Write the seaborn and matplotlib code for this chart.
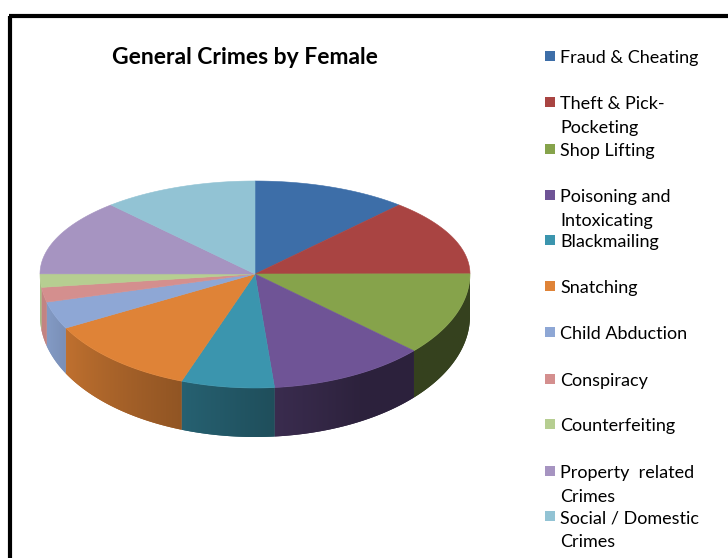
import numpy as np
import matplotlib
matplotlib.use("Agg")
import matplotlib.pyplot as plt
import seaborn as sns
from matplotlib.colors import to_rgb
from matplotlib.patches import Polygon

# Share of general crimes committed by women (percent)
categories = [
    "Fraud & Cheating",
    "Theft & Pick-\nPocketing",
    "Shop Lifting",
    "Poisoning and\nIntoxicating",
    "Blackmailing",
    "Snatching",
    "Child Abduction",
    "Conspiracy",
    "Counterfeiting",
    "Property  related\nCrimes",
    "Social / Domestic\nCrimes",
]
shares = [11.7, 13.3, 11.8, 11.8, 7.0, 11.6, 3.9, 2.1, 1.9, 13.3, 11.7]
slice_colors = [
    "#3d6ea8", "#a94442", "#86a34b", "#6f5496", "#3b95ae", "#df8337",
    "#8ea7d5", "#d48f8e", "#b6ce91", "#a694c1", "#92c3d4",
]
title = "General Crimes by Female"

sns.set_theme(style="white")
plt.rcParams["font.family"] = ["Lato", "DejaVu Sans"]
palette = sns.color_palette(slice_colors)

W, H = 728, 558
fig = plt.figure(figsize=(W / 100, H / 100), dpi=100)
ax = fig.add_axes([0, 0, 1, 1])
ax.set_xlim(0, W)
ax.set_ylim(H, 0)
ax.axis("off")

# Frame (top and left edges)
ax.plot([10, 10], [16, H + 5], color="black", lw=3.0, solid_capstyle="butt")
ax.plot([8.5, W + 5], [16, 16], color="black", lw=3.0, solid_capstyle="butt")

# Tilted pie geometry
cx, cy = 255.0, 274.0
rx = 215.0
ry_far, ry_near = 93.0, 114.0


def top_point(t):
    c = np.cos(t)
    ry = ry_far if c > 0 else ry_near
    return cx + rx * np.sin(t), cy - ry * c


def depth(t):
    return 42.0 + 7.0 * max(-np.cos(t), 0.0)


def shade(t):
    deg = np.degrees(t)
    return np.clip(0.4 + (deg - 150.0) / 100.0 * 0.5, 0.4, 0.92)


fr = np.array(shares) / np.sum(shares)
bounds = np.concatenate([[0.0], np.cumsum(fr)]) * 2 * np.pi

# Side walls of the near half, shaded by viewing angle
for i, col in enumerate(palette):
    t0, t1 = max(bounds[i], np.pi / 2), min(bounds[i + 1], 3 * np.pi / 2)
    if t1 <= t0:
        continue
    ts = np.linspace(t0, t1, 80)
    upper = [top_point(t) for t in ts]
    lower = [(x, y + depth(t)) for (x, y), t in zip(upper, ts)]
    verts = upper + lower[::-1]
    base = np.array(to_rgb(col))
    wall = Polygon(verts, closed=True, fc=tuple(base * shade((t0 + t1) / 2)),
                   ec="none", lw=0)
    ax.add_patch(wall)
    xs = np.array([v[0] for v in verts])
    ys = np.array([v[1] for v in verts])
    x_lo, x_hi = xs.min() - 1, xs.max() + 1
    gx = np.linspace(x_lo, x_hi, 200)
    ang = np.pi - np.arcsin(np.clip((gx - cx) / rx, -1, 1))
    img = np.clip(base[None, :] * shade(ang)[:, None], 0, 1)[None, :, :]
    im = ax.imshow(img, extent=(x_lo, x_hi, ys.max() + 1, ys.min() - 1),
                   aspect="auto", interpolation="bilinear", zorder=2)
    im.set_clip_path(wall)

# Top faces
for i, col in enumerate(palette):
    ts = np.linspace(bounds[i], bounds[i + 1], 120)
    pts = [top_point(t) for t in ts]
    xs = [cx] + [p[0] for p in pts]
    ys = [cy] + [p[1] for p in pts]
    ax.fill(xs, ys, color=col, lw=0.4, ec=col, zorder=3)

ax.set_xlim(0, W)
ax.set_ylim(H, 0)

# Title
ax.text(245, 57, title, ha="center", va="center", fontsize=16.5,
        fontweight="bold", color="black")

# Legend
ys = [56, 102, 149, 195, 240, 286, 332, 379, 424, 471, 516]
for lab, col, y in zip(categories, palette, ys):
    ax.add_patch(plt.Rectangle((545, y - 5), 10, 10, color=col, lw=0))
    ax.text(560, y - 6, lab, ha="left", va="top", fontsize=13,
            color="black", linespacing=1.6)

fig.savefig("out.png", dpi=100)
